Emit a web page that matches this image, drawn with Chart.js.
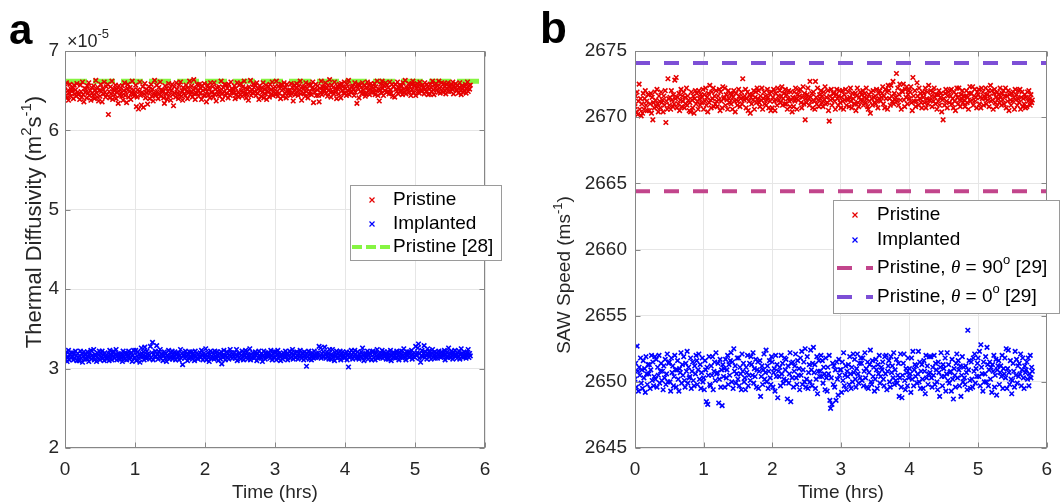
<!DOCTYPE html>
<html><head><meta charset="utf-8">
<script src="https://cdn.jsdelivr.net/npm/chart.js@4.4.1/dist/chart.umd.min.js"></script>
<style>
html,body{margin:0;padding:0;background:#fff;}
#wrap{position:relative;width:1062px;height:504px;overflow:hidden;background:#fff;}
canvas{position:absolute;top:0;}
</style></head><body>
<div id="wrap">
<canvas id="ca" width="531" height="504" style="left:0px"></canvas>
<canvas id="cb" width="531" height="504" style="left:531px"></canvas>
</div>
<script>
// ---------------- data ----------------
const SAMPLE_STEP_HRS = 0.01;           // sampling interval of the measurements
const timeTicks = [0, 1, 2, 3, 4, 5, 6];
const diffTicks = [2, 3, 4, 5, 6, 7];    // x10^-5 m^2 s^-1
const sawTicks = [2645, 2650, 2655, 2660, 2665, 2670, 2675];

// Thermal diffusivity (x10^-5 m^2/s)
const diffPristine = [
6.55,6.44,6.60,6.41,6.50,6.38,6.47,6.58,6.43,6.52, 6.49,6.53,6.40,6.57,6.46,6.51,6.43,6.59,6.48,6.45,
6.46,6.39,6.57,6.49,6.42,6.61,6.45,6.36,6.53,6.48, 6.52,6.41,6.56,6.47,6.60,6.44,6.50,6.38,6.54,6.47,
6.44,6.56,6.40,6.51,6.63,6.47,6.42,6.54,6.37,6.50, 6.43,6.58,6.49,6.36,6.53,6.46,6.61,6.48,6.42,6.55,
6.45,6.58,6.20,6.49,6.41,6.55,6.46,6.62,6.39,6.52, 6.50,6.45,6.57,6.40,6.52,6.48,6.34,6.56,6.44,6.51,
6.47,6.43,6.56,6.38,6.50,6.60,6.44,6.48,6.35,6.53, 6.58,6.42,6.49,6.54,6.39,6.47,6.62,6.45,6.51,6.43,
6.46,6.57,6.30,6.42,6.51,6.27,6.49,6.61,6.44,6.32, 6.48,6.55,6.29,6.46,6.59,6.41,6.52,6.47,6.33,6.50,
6.55,6.40,6.48,6.58,6.43,6.52,6.37,6.47,6.63,6.45, 6.44,6.57,6.49,6.40,6.54,6.46,6.61,6.43,6.51,6.48,
6.50,6.41,6.34,6.56,6.46,6.53,6.39,6.49,6.59,6.44, 6.53,6.38,6.50,6.58,6.45,6.31,6.55,6.47,6.42,6.60,
6.52,6.47,6.40,6.57,6.45,6.61,6.43,6.50,6.38,6.54, 6.46,6.52,6.44,6.57,6.49,6.40,6.54,6.48,6.62,6.45,
6.48,6.56,6.42,6.51,6.64,6.46,6.39,6.53,6.47,6.58, 6.51,6.43,6.58,6.47,6.53,6.39,6.56,6.50,6.44,6.59,
6.44,6.52,6.36,6.49,6.57,6.45,6.53,6.41,6.60,6.48, 6.48,6.55,6.42,6.60,6.46,6.52,6.37,6.54,6.49,6.45,
6.55,6.43,6.50,6.62,6.46,6.39,6.54,6.49,6.58,6.44, 6.57,6.47,6.53,6.41,6.58,6.50,6.44,6.61,6.48,6.52,
6.51,6.47,6.56,6.40,6.53,6.45,6.60,6.48,6.42,6.57, 6.45,6.59,6.50,6.43,6.55,6.48,6.62,6.46,6.53,6.41,
6.46,6.52,6.38,6.55,6.49,6.63,6.44,6.51,6.47,6.58, 6.54,6.49,6.57,6.44,6.60,6.47,6.52,6.39,6.56,6.50,
6.43,6.54,6.48,6.60,6.41,6.52,6.46,6.57,6.39,6.50, 6.48,6.55,6.42,6.58,6.51,6.46,6.61,6.44,6.53,6.49,
6.55,6.45,6.62,6.49,6.43,6.56,6.47,6.53,6.40,6.58, 6.57,6.43,6.52,6.60,6.47,6.54,6.41,6.58,6.50,6.46,
6.48,6.51,6.44,6.59,6.46,6.54,6.37,6.50,6.57,6.45, 6.53,6.59,6.48,6.44,6.56,6.51,6.62,6.46,6.38,6.55,
6.52,6.47,6.55,6.43,6.60,6.49,6.53,6.41,6.58,6.46, 6.49,6.57,6.45,6.53,6.61,6.35,6.52,6.48,6.58,6.44,
6.51,6.56,6.44,6.36,6.53,6.48,6.62,6.45,6.55,6.50, 6.55,6.50,6.60,6.47,6.53,6.43,6.57,6.51,6.64,6.48,
6.42,6.57,6.49,6.54,6.46,6.61,6.48,6.52,6.40,6.56, 6.52,6.46,6.58,6.54,6.41,6.59,6.50,6.55,6.47,6.61,
6.47,6.53,6.44,6.58,6.50,6.63,6.45,6.52,6.48,6.55, 6.49,6.56,6.52,6.44,6.60,6.48,6.55,6.34,6.53,6.58,
6.41,6.57,6.49,6.54,6.46,6.60,6.51,6.47,6.56,6.43, 6.46,6.54,6.61,6.50,6.57,6.45,6.52,6.59,6.48,6.55,
6.53,6.48,6.59,6.45,6.55,6.50,6.62,6.44,6.52,6.37, 6.51,6.58,6.47,6.62,6.53,6.44,6.56,6.50,6.60,6.48,
6.57,6.49,6.54,6.46,6.61,6.51,6.47,6.58,6.43,6.55, 6.55,6.42,6.58,6.52,6.49,6.61,6.46,6.54,6.57,6.50,
6.50,6.56,6.45,6.60,6.52,6.48,6.63,6.46,6.54,6.51, 6.53,6.59,6.48,6.55,6.44,6.58,6.51,6.62,6.47,6.56,
6.57,6.44,6.53,6.59,6.49,6.55,6.47,6.61,6.50,6.56, 6.50,6.57,6.54,6.46,6.60,6.52,6.49,6.58,6.55,6.45,
6.52,6.46,6.58,6.54,6.49,6.62,6.51,6.45,6.57,6.53, 6.59,6.51,6.56,6.48,6.62,6.53,6.47,6.55,6.60,6.50,
6.48,6.59,6.55,6.50,6.46,6.58,6.53,6.60,6.49,6.56, 6.54,6.49,6.58,6.52,6.61,6.46,6.56,6.53,6.59,6.51,
6.51,6.57,6.47,6.54,6.60,6.50,6.45,6.56,6.52,6.48, 6.55,6.50,6.58,6.47,6.53,6.61,6.49,6.56,6.52,6.57
];
const diffImplanted = [
3.17,3.12,3.21,3.09,3.15,3.23,3.11,3.18,3.14,3.20, 3.15,3.20,3.11,3.18,3.13,3.22,3.16,3.10,3.19,3.14,
3.10,3.16,3.22,3.13,3.19,3.08,3.15,3.21,3.12,3.17, 3.18,3.12,3.21,3.15,3.09,3.19,3.14,3.23,3.12,3.17,
3.14,3.24,3.11,3.18,3.16,3.09,3.20,3.13,3.17,3.22, 3.11,3.19,3.15,3.22,3.13,3.17,3.10,3.20,3.16,3.14,
3.12,3.15,3.19,3.10,3.23,3.14,3.17,3.11,3.21,3.16, 3.21,3.13,3.17,3.24,3.11,3.16,3.19,3.12,3.18,3.15,
3.13,3.18,3.09,3.22,3.15,3.12,3.20,3.17,3.11,3.19, 3.16,3.22,3.12,3.18,3.14,3.20,3.09,3.17,3.23,3.13,
3.14,3.23,3.10,3.16,3.21,3.13,3.18,3.08,3.15,3.26, 3.19,3.15,3.21,3.11,3.27,3.16,3.13,3.22,3.18,3.14,
3.17,3.12,3.28,3.14,3.20,3.33,3.11,3.18,3.15,3.22, 3.15,3.29,3.18,3.12,3.21,3.16,3.24,3.13,3.19,3.17,
3.10,3.16,3.21,3.13,3.19,3.09,3.17,3.14,3.23,3.12, 3.14,3.20,3.16,3.22,3.12,3.18,3.15,3.21,3.11,3.19,
3.18,3.15,3.20,3.11,3.16,3.24,3.13,3.19,3.05,3.17, 3.17,3.13,3.22,3.15,3.19,3.10,3.18,3.14,3.21,3.16,
3.14,3.21,3.12,3.18,3.16,3.10,3.22,3.15,3.19,3.13, 3.12,3.18,3.15,3.20,3.14,3.23,3.17,3.11,3.19,3.15,
3.17,3.25,3.11,3.16,3.20,3.14,3.09,3.18,3.22,3.13, 3.20,3.14,3.18,3.12,3.22,3.16,3.13,3.21,3.17,3.10,
3.15,3.19,3.12,3.21,3.06,3.17,3.14,3.23,3.16,3.11, 3.16,3.21,3.14,3.19,3.12,3.17,3.24,3.15,3.20,3.13,
3.18,3.15,3.20,3.13,3.17,3.24,3.10,3.16,3.19,3.14, 3.19,3.12,3.17,3.22,3.15,3.11,3.20,3.16,3.23,3.14,
3.21,3.12,3.17,3.15,3.25,3.11,3.18,3.14,3.20,3.16, 3.13,3.18,3.21,3.16,3.10,3.19,3.14,3.22,3.17,3.15,
3.13,3.19,3.09,3.17,3.22,3.15,3.12,3.20,3.16,3.18, 3.20,3.15,3.18,3.13,3.23,3.16,3.11,3.19,3.14,3.21,
3.14,3.21,3.11,3.17,3.23,3.13,3.19,3.15,3.10,3.18, 3.16,3.12,3.20,3.17,3.14,3.22,3.15,3.18,3.11,3.19,
3.16,3.22,3.13,3.19,3.15,3.24,3.12,3.17,3.20,3.14, 3.14,3.21,3.16,3.12,3.19,3.15,3.23,3.17,3.13,3.20,
3.18,3.11,3.21,3.16,3.13,3.03,3.19,3.15,3.22,3.12, 3.18,3.15,3.11,3.20,3.16,3.13,3.22,3.17,3.14,3.19,
3.17,3.14,3.20,3.28,3.16,3.26,3.13,3.19,3.15,3.21, 3.15,3.27,3.18,3.13,3.21,3.16,3.19,3.12,3.24,3.17,
3.12,3.18,3.24,3.14,3.17,3.10,3.20,3.16,3.22,3.13, 3.20,3.14,3.17,3.22,3.11,3.18,3.15,3.21,3.16,3.13,
3.19,3.15,3.21,3.11,3.17,3.02,3.14,3.20,3.16,3.23, 3.17,3.12,3.20,3.15,3.23,3.18,3.13,3.16,3.21,3.14,
3.12,3.18,3.15,3.21,3.13,3.26,3.17,3.10,3.19,3.15, 3.19,3.15,3.22,3.12,3.17,3.20,3.14,3.18,3.11,3.21,
3.22,3.14,3.18,3.11,3.20,3.16,3.24,3.13,3.19,3.15, 3.14,3.19,3.16,3.23,3.13,3.18,3.21,3.15,3.17,3.12,
3.17,3.21,3.12,3.18,3.15,3.23,3.10,3.16,3.20,3.14, 3.20,3.16,3.13,3.19,3.22,3.14,3.17,3.11,3.21,3.15,
3.18,3.22,3.13,3.17,3.25,3.15,3.19,3.11,3.21,3.16, 3.17,3.21,3.14,3.19,3.16,3.23,3.12,3.18,3.15,3.20,
3.14,3.28,3.17,3.20,3.26,3.31,3.13,3.19,3.08,3.16, 3.23,3.15,3.19,3.29,3.14,3.21,3.17,3.12,3.25,3.18,
3.22,3.15,3.18,3.12,3.20,3.24,3.14,3.17,3.21,3.13, 3.16,3.20,3.13,3.18,3.22,3.15,3.19,3.14,3.21,3.17,
3.19,3.16,3.23,3.11,3.18,3.15,3.21,3.14,3.26,3.17, 3.14,3.19,3.22,3.16,3.12,3.20,3.17,3.23,3.15,3.18,
3.13,3.20,3.16,3.22,3.12,3.18,3.25,3.15,3.19,3.14, 3.21,3.15,3.18,3.13,3.20,3.17,3.24,3.14,3.19,3.16
];
const diffPristineRef28 = [6.62];

// SAW speed (m/s)
const sawPristine = [
2670.8,2671.6,2670.4,2671.9,2670.2,2671.2,2672.5,2670.6,2671.4,2670.1, 2671.0,2670.3,2671.8,2670.6,2671.4,2672.0,2670.9,2671.2,2670.5,2671.7,
2671.7,2670.5,2671.0,2671.8,2670.3,2671.5,2669.8,2671.1,2670.7,2671.9, 2671.3,2670.8,2672.1,2671.0,2670.4,2671.6,2671.2,2670.7,2671.9,2671.1,
2671.3,2670.4,2671.6,2670.9,2672.0,2669.6,2671.2,2670.6,2672.9,2671.4, 2670.9,2671.5,2670.6,2672.0,2671.3,2670.8,2671.7,2671.0,2672.8,2671.4,
2673.0,2670.7,2671.5,2671.0,2671.8,2670.5,2671.3,2672.1,2670.8,2671.6, 2671.2,2671.9,2670.7,2671.5,2671.0,2672.2,2670.9,2671.6,2671.3,2670.5,
2671.1,2670.4,2671.9,2671.3,2670.7,2671.6,2670.3,2671.4,2672.0,2671.0, 2671.8,2671.2,2670.6,2672.0,2671.4,2670.9,2671.7,2671.1,2671.5,2672.1,
2670.6,2671.7,2671.2,2672.2,2670.9,2671.5,2670.4,2671.8,2671.1,2672.4, 2671.3,2670.7,2671.9,2671.4,2672.2,2670.8,2671.6,2671.0,2672.0,2671.2,
2670.8,2671.6,2671.3,2672.1,2670.5,2671.9,2671.2,2670.7,2672.3,2671.4, 2671.5,2672.2,2670.9,2671.7,2671.3,2670.6,2672.0,2671.4,2671.1,2671.8,
2671.0,2671.7,2670.6,2671.5,2672.0,2671.2,2670.4,2671.8,2671.3,2670.9, 2671.2,2672.1,2671.6,2670.8,2671.4,2671.9,2671.0,2672.9,2671.5,2671.3,
2671.6,2672.1,2670.7,2671.4,2671.9,2670.5,2671.2,2671.7,2670.3,2671.5, 2671.0,2671.7,2671.3,2672.0,2670.6,2671.5,2671.9,2671.1,2672.2,2671.4,
2672.0,2671.1,2670.8,2671.6,2671.3,2672.2,2670.6,2671.4,2671.9,2671.0, 2671.6,2670.9,2671.3,2672.1,2671.5,2670.7,2671.8,2671.2,2670.5,2671.9,
2670.7,2671.5,2672.1,2671.2,2670.5,2671.8,2671.3,2670.9,2672.2,2671.6, 2671.3,2672.0,2671.1,2671.6,2672.3,2670.9,2671.4,2671.8,2671.0,2672.1,
2671.0,2671.7,2670.6,2671.4,2672.0,2671.2,2670.8,2671.9,2671.3,2670.4, 2671.5,2670.8,2671.9,2671.2,2672.2,2671.4,2670.6,2671.7,2671.3,2672.0,
2671.6,2672.1,2671.1,2670.7,2671.5,2672.3,2671.0,2671.8,2669.8,2671.4, 2671.1,2671.7,2672.2,2671.4,2670.9,2672.7,2671.5,2671.2,2671.8,2670.7,
2671.9,2671.2,2670.6,2672.7,2671.5,2671.0,2672.2,2671.3,2670.8,2671.7, 2671.4,2672.0,2671.1,2671.6,2670.8,2671.9,2671.3,2672.3,2671.0,2671.5,
2671.1,2672.0,2670.5,2669.7,2671.6,2671.3,2672.1,2670.9,2671.4,2671.8, 2671.8,2671.2,2670.6,2671.7,2672.1,2671.4,2670.9,2671.6,2672.0,2671.1,
2670.7,2671.5,2672.0,2671.2,2670.6,2671.7,2671.3,2672.1,2670.9,2671.4, 2671.3,2671.9,2670.8,2671.5,2672.2,2671.2,2670.7,2671.8,2671.4,2671.0,
2671.0,2671.8,2670.5,2671.6,2672.2,2671.1,2670.8,2671.5,2671.9,2671.3, 2671.7,2671.2,2672.0,2670.9,2671.5,2671.8,2671.1,2672.2,2671.4,2670.8,
2670.6,2671.7,2671.2,2670.3,2671.9,2671.4,2670.9,2672.0,2671.5,2671.1, 2671.6,2671.0,2672.1,2671.3,2670.7,2671.8,2671.4,2672.0,2671.2,2671.5,
2671.8,2672.3,2671.0,2671.6,2670.7,2672.1,2671.4,2671.9,2670.6,2672.4, 2672.0,2671.4,2670.9,2672.4,2671.6,2671.2,2672.7,2671.0,2671.8,2671.3,
2671.5,2673.3,2671.2,2672.2,2670.9,2671.7,2672.5,2671.3,2670.6,2672.0, 2671.9,2672.5,2671.3,2670.8,2672.1,2671.5,2672.3,2671.0,2671.7,2672.0,
2671.4,2671.9,2672.3,2671.1,2670.5,2673.0,2671.6,2671.2,2672.0,2670.8, 2671.2,2672.6,2671.6,2670.9,2672.2,2671.4,2671.8,2671.1,2670.7,2671.9,
2671.5,2671.8,2671.1,2672.2,2670.7,2671.4,2671.9,2671.0,2672.4,2671.3, 2671.3,2672.0,2671.6,2670.8,2671.9,2671.2,2672.2,2671.5,2671.0,2671.7,
2670.6,2671.7,2671.2,2672.0,2670.9,2671.5,2671.8,2670.4,2671.3,2669.8, 2671.4,2670.9,2671.8,2672.1,2671.2,2670.7,2671.6,2671.9,2671.1,2672.0,
2671.6,2672.1,2671.0,2671.4,2670.7,2671.9,2671.2,2670.5,2671.7,2672.2, 2671.5,2671.0,2672.2,2671.3,2670.8,2671.7,2671.4,2672.0,2671.1,2671.6,
2671.3,2670.8,2671.6,2672.0,2671.1,2671.5,2670.6,2671.8,2672.3,2671.2, 2671.8,2671.3,2672.3,2670.9,2671.6,2672.1,2671.2,2671.5,2670.7,2671.9,
2671.7,2672.1,2671.0,2671.5,2670.7,2672.2,2671.4,2671.9,2670.9,2671.6, 2671.4,2672.2,2671.0,2671.7,2671.3,2672.0,2670.8,2671.6,2672.4,2671.2,
2672.0,2671.3,2670.6,2671.8,2672.1,2671.1,2671.5,2670.8,2671.9,2671.4, 2671.7,2671.1,2672.2,2671.5,2670.9,2671.8,2671.3,2672.0,2671.0,2671.6,
2672.2,2670.7,2671.6,2671.2,2672.0,2670.5,2671.7,2671.3,2670.9,2671.8, 2671.2,2671.9,2671.5,2670.6,2672.1,2671.3,2671.7,2670.9,2671.4,2672.0,
2671.1,2672.1,2670.6,2671.5,2671.9,2670.8,2671.4,2671.0,2671.7,2670.7, 2671.5,2670.8,2671.9,2671.2,2672.0,2671.4,2670.9,2671.7,2671.1,2671.3
];
const sawImplanted = [
2650.2,2651.4,2649.6,2652.7,2650.8,2649.3,2651.1,2650.5,2651.8,2649.9, 2650.9,2649.5,2651.6,2650.3,2651.0,2649.2,2651.9,2650.6,2649.8,2651.3,
2650.6,2651.3,2649.5,2650.9,2652.0,2650.1,2651.5,2649.7,2650.4,2651.9, 2650.2,2651.7,2649.6,2651.1,2650.5,2652.0,2649.9,2650.8,2651.4,2650.1,
2650.8,2649.4,2651.2,2650.3,2651.7,2649.8,2650.6,2652.1,2650.0,2651.4, 2651.5,2650.0,2649.3,2651.8,2650.7,2651.2,2649.7,2650.4,2652.0,2650.9,
2649.6,2650.9,2651.6,2650.2,2649.3,2651.0,2650.7,2652.2,2649.9,2651.3, 2650.5,2651.9,2650.1,2649.6,2651.4,2650.8,2652.3,2649.9,2651.1,2650.3,
2650.4,2651.8,2649.5,2650.8,2651.5,2650.1,2649.7,2651.2,2650.6,2652.0, 2651.6,2649.8,2650.9,2652.1,2650.2,2651.3,2649.5,2650.7,2651.8,2650.0,
2650.3,2649.4,2651.6,2650.9,2648.5,2651.1,2648.3,2650.5,2651.9,2649.8, 2649.7,2651.2,2650.5,2651.9,2649.4,2650.8,2651.5,2650.1,2652.2,2650.6,
2650.7,2651.4,2648.4,2650.2,2651.7,2649.6,2650.9,2648.2,2651.3,2650.4, 2651.0,2649.6,2651.7,2650.3,2650.9,2652.0,2649.8,2651.3,2650.5,2651.6,
2652.2,2650.0,2651.5,2649.5,2652.5,2650.8,2651.2,2649.9,2650.6,2651.8, 2650.2,2651.8,2649.7,2651.1,2650.6,2649.4,2652.1,2650.8,2651.4,2650.0,
2650.3,2649.4,2651.1,2650.7,2652.0,2649.7,2650.5,2651.4,2650.1,2651.9, 2651.3,2650.5,2652.2,2649.9,2651.0,2650.4,2651.7,2649.6,2650.9,2651.5,
2649.5,2650.8,2651.6,2648.9,2650.4,2651.2,2649.8,2650.9,2652.1,2650.2, 2650.7,2652.4,2650.0,2651.2,2649.5,2650.8,2651.6,2650.3,2649.8,2651.9,
2651.5,2649.6,2650.7,2651.0,2649.3,2652.0,2650.4,2651.3,2648.8,2650.8, 2650.4,2651.1,2649.7,2652.0,2650.6,2651.4,2649.9,2650.2,2651.8,2650.9,
2651.7,2650.1,2648.7,2651.2,2649.9,2650.6,2652.2,2648.5,2651.4,2650.3, 2651.5,2649.6,2650.8,2651.2,2652.1,2650.3,2649.8,2651.6,2650.5,2651.0,
2649.4,2651.8,2650.5,2652.3,2649.8,2650.9,2651.5,2650.0,2652.5,2649.6, 2650.2,2651.9,2649.5,2650.7,2651.3,2650.0,2652.4,2650.9,2649.7,2651.4,
2652.6,2650.7,2651.3,2649.5,2650.2,2651.9,2649.1,2650.8,2651.6,2650.4, 2650.8,2652.0,2650.4,2651.6,2649.9,2651.1,2650.6,2649.4,2651.8,2650.3,
2649.3,2651.1,2650.6,2652.0,2648.6,2648.0,2650.3,2648.3,2651.4,2649.8, 2651.2,2649.6,2650.9,2648.6,2651.5,2650.2,2649.0,2651.7,2650.5,2650.9,
2650.9,2649.2,2651.5,2650.1,2652.2,2649.7,2650.5,2651.2,2649.4,2650.8, 2650.4,2651.3,2649.8,2651.9,2650.6,2649.5,2651.1,2650.0,2652.1,2650.7,
2651.7,2650.2,2649.6,2651.0,2652.1,2650.6,2649.9,2651.4,2650.3,2651.8, 2651.4,2650.1,2651.8,2649.7,2650.8,2652.2,2650.3,2651.0,2649.6,2651.5,
2649.5,2650.7,2651.3,2652.4,2650.0,2649.8,2651.6,2650.4,2651.1,2649.3, 2650.2,2651.7,2650.9,2649.5,2651.3,2650.6,2652.0,2649.9,2650.4,2651.1,
2650.9,2651.5,2650.2,2649.7,2651.9,2650.6,2652.0,2649.4,2650.8,2651.2, 2651.6,2650.0,2649.6,2651.9,2650.7,2651.2,2650.3,2652.2,2649.8,2650.9,
2650.1,2651.7,2649.9,2650.5,2651.4,2648.9,2650.3,2652.1,2649.6,2648.8, 2650.5,2651.4,2652.1,2650.1,2649.4,2651.0,2650.7,2649.7,2651.8,2650.3,
2651.0,2650.6,2649.2,2651.8,2650.2,2652.3,2649.7,2650.9,2651.3,2650.4, 2651.2,2649.9,2650.6,2652.3,2650.0,2651.5,2649.5,2650.8,2651.3,2650.2,
2649.5,2651.6,2650.8,2649.1,2652.0,2650.3,2651.2,2649.8,2650.6,2651.9, 2650.7,2651.9,2650.3,2649.6,2651.1,2650.5,2652.0,2649.8,2651.4,2650.9,
2650.0,2649.4,2651.5,2650.7,2648.9,2651.1,2652.2,2650.4,2649.7,2651.3, 2651.0,2650.4,2651.8,2649.3,2650.6,2652.2,2650.1,2651.3,2649.9,2650.7,
2650.8,2649.3,2651.7,2650.2,2648.7,2651.0,2650.5,2649.6,2651.4,2652.1, 2650.3,2651.6,2650.9,2649.7,2651.2,2648.9,2650.5,2651.9,2650.0,2651.1,
2650.3,2649.8,2651.2,2650.7,2649.4,2653.9,2650.9,2651.6,2650.1,2649.5, 2651.5,2650.2,2649.6,2651.8,2650.8,2652.1,2649.9,2651.0,2650.4,2651.4,
2651.8,2650.4,2652.3,2649.7,2652.8,2651.1,2650.6,2649.3,2651.5,2650.0, 2650.6,2651.9,2650.0,2652.6,2651.3,2649.7,2650.9,2651.5,2650.2,2651.1,
2649.2,2651.3,2650.8,2652.0,2649.6,2650.5,2651.7,2649.0,2650.9,2651.2, 2651.6,2649.8,2650.7,2651.2,2650.4,2652.0,2649.5,2651.0,2650.6,2651.8,
2650.3,2652.5,2649.5,2651.0,2652.4,2650.7,2649.8,2651.6,2650.2,2649.1, 2650.1,2651.4,2650.8,2649.6,2652.3,2650.5,2651.7,2649.9,2651.2,2650.4,
2651.4,2650.6,2652.1,2649.7,2650.9,2651.8,2650.3,2649.5,2651.2,2650.7, 2650.9,2651.5,2650.2,2651.8,2649.7,2650.6,2652.0,2650.3,2651.1,2650.8
];
const sawPristineRef90 = [2664.4];
const sawPristineRef0 = [2674.1];

// ---------------- helpers ----------------
const FAM = '"Liberation Sans", Arial, Helvetica, sans-serif';
const TXT = '#262626';
const AXC = '#868686';
const GRID = '#e6e6e6';
const RED = '#e60000', BLUE = '#0000ff';
const GREEN = '#86f542', PURPLE = '#7d4fd6', MAGENTA = '#c2458c';

const toPts = vals => vals.map((v, i) => ({ x: i * SAMPLE_STEP_HRS, y: v }));
const hLine = (v) => [{ x: timeTicks[0], y: v }, { x: timeTicks[timeTicks.length - 1], y: v }];

function drawRich(ctx, parts, x, y, align) {
  let total = 0;
  const widths = parts.map(p => {
    ctx.font = (p.italic ? 'italic ' : '') + (p.bold ? 'bold ' : '') + p.size + 'px ' + (p.fam || FAM);
    const w = ctx.measureText(p.t).width; total += w; return w;
  });
  let cx = align === 'center' ? x - total / 2 : (align === 'right' ? x - total : x);
  parts.forEach((p, i) => {
    ctx.font = (p.italic ? 'italic ' : '') + (p.bold ? 'bold ' : '') + p.size + 'px ' + (p.fam || FAM);
    ctx.fillText(p.t, cx, y + (p.dy || 0));
    cx += widths[i];
  });
}

function crossMarker(ctx, x, y, r, color, lw) {
  ctx.save();
  ctx.strokeStyle = color; ctx.lineWidth = lw;
  ctx.beginPath();
  ctx.moveTo(x - r, y - r); ctx.lineTo(x + r, y + r);
  ctx.moveTo(x - r, y + r); ctx.lineTo(x + r, y - r);
  ctx.stroke();
  ctx.restore();
}

const framePlugin = {
  id: 'frame',
  afterDatasetsDraw(chart, args, opts) {
    const { ctx, chartArea: a, scales: { x, y } } = chart;
    ctx.save();
    ctx.strokeStyle = AXC; ctx.lineWidth = 1;
    const L = Math.round(a.left) + 0.5, R = Math.round(a.right) - 0.5;
    const T = Math.round(a.top) + 0.5, B = Math.round(a.bottom) - 0.5;
    ctx.strokeRect(L, T, R - L, B - T);
    ctx.beginPath();
    x.ticks.forEach(t => {
      const px = Math.round(x.getPixelForValue(t.value)) + 0.5;
      ctx.moveTo(px, B); ctx.lineTo(px, B - 5);
      ctx.moveTo(px, T); ctx.lineTo(px, T + 5);
    });
    y.ticks.forEach(t => {
      const py = Math.round(y.getPixelForValue(t.value)) + 0.5;
      ctx.moveTo(L, py); ctx.lineTo(L + 5, py);
      ctx.moveTo(R, py); ctx.lineTo(R - 5, py);
    });
    ctx.stroke();
    ctx.restore();
  },
  afterDraw(chart, args, opts) {
    const ctx = chart.ctx;
    const a = chart.chartArea;
    ctx.save();
    ctx.fillStyle = '#000';
    ctx.textBaseline = 'alphabetic';
    ctx.font = 'bold ' + opts.letterSize + 'px ' + FAM;
    ctx.fillText(opts.letter, opts.letterX, opts.letterY);
    ctx.fillStyle = TXT;
    ctx.textBaseline = 'middle';
    drawRich(ctx, [{ t: 'Time (hrs)', size: 19 }], (a.left + a.right) / 2, 493, 'center');
    ctx.save();
    ctx.translate(opts.yTitleX, opts.yTitleY);
    ctx.rotate(-Math.PI / 2);
    drawRich(ctx, opts.yTitle, 0, 0, 'center');
    ctx.restore();
    if (opts.exponent) {
      ctx.textBaseline = 'alphabetic';
      drawRich(ctx, [{ t: '\u00d710', size: 18 }, { t: '-5', size: 13, dy: -9 }], a.left + 2, 47, 'left');
    }
    const lg = opts.legend;
    ctx.fillStyle = '#fff';
    ctx.fillRect(lg.x, lg.y, lg.w, lg.h);
    ctx.strokeStyle = '#9a9a9a'; ctx.lineWidth = 1;
    ctx.strokeRect(lg.x + 0.5, lg.y + 0.5, lg.w, lg.h);
    ctx.textBaseline = 'middle';
    lg.items.forEach(it => {
      if (it.kind === 'marker') {
        crossMarker(ctx, lg.markX, it.y, 2.5, it.color, 1.2);
      } else {
        ctx.save();
        ctx.strokeStyle = it.color; ctx.lineWidth = it.lw;
        ctx.setLineDash(it.dash);
        ctx.beginPath(); ctx.moveTo(lg.lineX0, it.y); ctx.lineTo(lg.lineX1, it.y); ctx.stroke();
        ctx.restore();
      }
      ctx.fillStyle = '#000';
      drawRich(ctx, it.label, lg.textX, it.y, 'left');
    });
    ctx.restore();
  }
};

function makeChart(id, cfg) {
  return new Chart(document.getElementById(id), {
    type: 'scatter',
    data: { datasets: cfg.datasets },
    options: {
      responsive: false,
      animation: false,
      devicePixelRatio: 1,
      layout: { padding: { left: 0, right: cfg.padRight, top: 51, bottom: 0 } },
      plugins: { legend: { display: false }, tooltip: { enabled: false }, frame: cfg.frame },
      scales: {
        x: {
          type: 'linear', min: 0, max: 6,
          afterBuildTicks: s => { s.ticks = timeTicks.map(v => ({ value: v })); },
          afterFit: s => { s.height = 56; },
          grid: { color: GRID, drawTicks: false, lineWidth: 1 },
          border: { display: false },
          ticks: { color: TXT, font: { family: FAM, size: 19 }, padding: 10, maxRotation: 0, callback: v => String(v) }
        },
        y: {
          type: 'linear', min: cfg.yMin, max: cfg.yMax,
          afterBuildTicks: s => { s.ticks = cfg.yTicks.map(v => ({ value: v })); },
          afterFit: s => { s.width = cfg.yWidth; },
          grid: { color: GRID, drawTicks: false, lineWidth: 1 },
          border: { display: false },
          ticks: { color: TXT, font: { family: FAM, size: 19 }, padding: cfg.yPad, callback: v => String(v) }
        }
      }
    },
    plugins: [framePlugin]
  });
}

const scatterDs = (label, vals, color) => ({
  label, data: toPts(vals), showLine: false,
  pointStyle: 'crossRot', pointRadius: 3.2, pointBorderWidth: 1.6,
  borderColor: color, backgroundColor: color, pointHoverRadius: 3.2
});
const lineDs = (label, v, color, dash, lw) => ({
  label, data: hLine(v), showLine: true, pointRadius: 0, borderColor: color,
  borderWidth: lw, borderDash: dash, fill: false
});

const serif = '"Liberation Serif", "DejaVu Serif", serif';

makeChart('ca', {
  padRight: 46, yWidth: 65, yPad: 6, yMin: 2, yMax: 7, yTicks: diffTicks,
  datasets: [
    scatterDs('Pristine', diffPristine, RED),
    scatterDs('Implanted', diffImplanted, BLUE),
    lineDs('Pristine [28]', diffPristineRef28[0], GREEN, [22, 6], 5)
  ],
  frame: {
    letter: 'a', letterSize: 42, letterX: 9, letterY: 44, exponent: true,
    yTitleX: 35, yTitleY: 222,
    yTitle: [{ t: 'Thermal Diffusivity (m', size: 22 }, { t: '2', size: 15, dy: -8 }, { t: 's', size: 22 }, { t: '-1', size: 15, dy: -8 }, { t: ')', size: 22 }],
    legend: {
      x: 350, y: 185, w: 151, h: 75, markX: 372, textX: 393, lineX0: 352, lineX1: 390,
      items: [
        { kind: 'marker', color: RED, y: 200, label: [{ t: 'Pristine', size: 19 }] },
        { kind: 'marker', color: BLUE, y: 224, label: [{ t: 'Implanted', size: 19 }] },
        { kind: 'line', color: GREEN, lw: 4, dash: [10, 4], y: 247, label: [{ t: 'Pristine [28]', size: 19 }] }
      ]
    }
  }
});

makeChart('cb', {
  padRight: 6, yWidth: 104, yPad: 8, yMin: 2645, yMax: 2675, yTicks: sawTicks,
  datasets: [
    scatterDs('Pristine', sawPristine, RED),
    scatterDs('Implanted', sawImplanted, BLUE),
    lineDs('Pristine, \u03b8 = 90\u00b0 [29]', sawPristineRef90[0], MAGENTA, [15, 14], 4),
    lineDs('Pristine, \u03b8 = 0\u00b0 [29]', sawPristineRef0[0], PURPLE, [15, 14], 4)
  ],
  frame: {
    letter: 'b', letterSize: 44, letterX: 9, letterY: 43, exponent: false,
    yTitleX: 34, yTitleY: 275,
    yTitle: [{ t: 'SAW Speed (ms', size: 19 }, { t: '-1', size: 13, dy: -7 }, { t: ')', size: 19 }],
    legend: {
      x: 302, y: 200, w: 226, h: 113, markX: 324, textX: 346, lineX0: 306, lineX1: 342,
      items: [
        { kind: 'marker', color: RED, y: 215, label: [{ t: 'Pristine', size: 19 }] },
        { kind: 'marker', color: BLUE, y: 240, label: [{ t: 'Implanted', size: 19 }] },
        { kind: 'line', color: MAGENTA, lw: 4, dash: [15, 14], y: 268, label: [{ t: 'Pristine, ', size: 19 }, { t: '\u03b8', size: 19, italic: true, fam: serif }, { t: ' = 90', size: 19 }, { t: 'o', size: 13, dy: -8 }, { t: ' [29]', size: 19 }] },
        { kind: 'line', color: PURPLE, lw: 4, dash: [15, 14], y: 297, label: [{ t: 'Pristine, ', size: 19 }, { t: '\u03b8', size: 19, italic: true, fam: serif }, { t: ' = 0', size: 19 }, { t: 'o', size: 13, dy: -8 }, { t: ' [29]', size: 19 }] }
      ]
    }
  }
});
</script>
</body></html>
